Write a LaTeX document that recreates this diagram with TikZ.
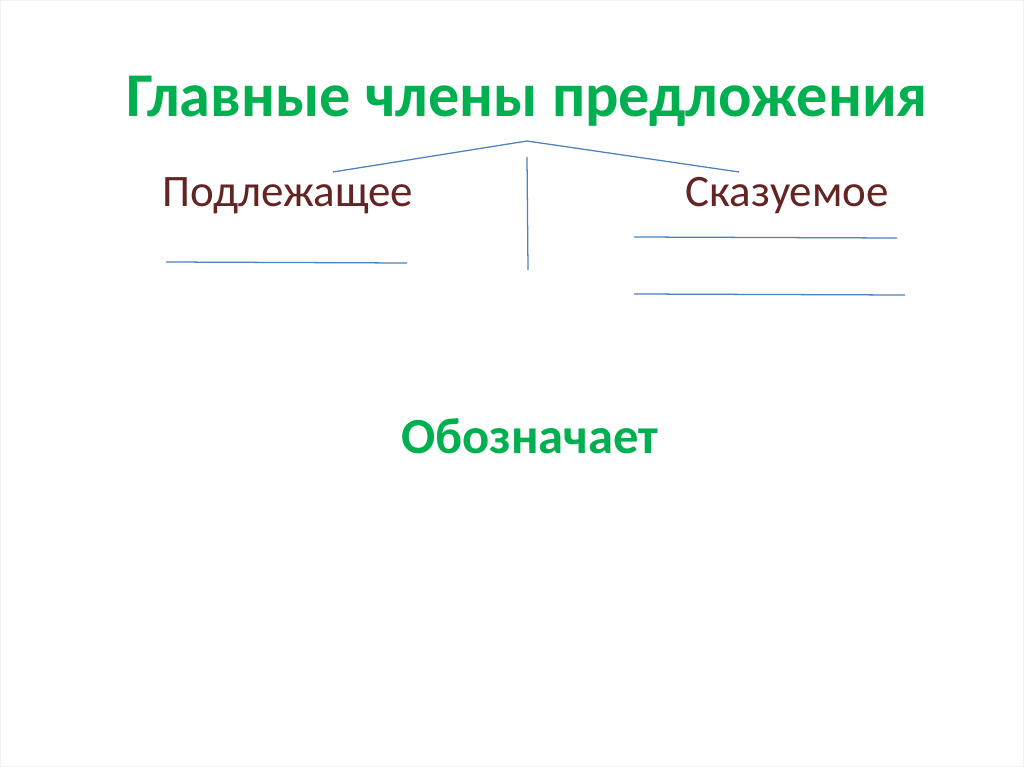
\documentclass[tikz,border=0pt]{standalone}
\usepackage{fontspec}
\setmainfont{Carlito}
\definecolor{titlegreen}{HTML}{00B050}
\definecolor{termred}{HTML}{632423}
\definecolor{lineblue}{HTML}{4F81BD}

\begin{document}
\begin{tikzpicture}[x=0.025cm,y=-0.025cm]
	% `heading' is used for the green bold texts.
	% `term' is used for the two dark red words.
	\tikzstyle{heading} = [text=titlegreen,font=\bfseries,anchor=base,inner sep=0pt]
	\tikzstyle{term} = [text=termred,anchor=base,inner sep=0pt]
	\tikzstyle{rule} = [draw=lineblue,line width=0.9pt]
	%
	\path[fill=white,draw=black!5] (0.5,0.5) rectangle (1023.5,766.5);
	\useasboundingbox (0,0) rectangle (1024,767);
	% Texts.
	\node[heading,font=\fontsize{44.3}{50}\selectfont\bfseries] (title) at (527,117) {Главные члены предложения};
	\node[term,font=\fontsize{32}{36}\selectfont] (subj) at (288,207) {Подлежащее};
	\node[term,font=\fontsize{32}{36}\selectfont] (pred) at (787,207) {Сказуемое};
	\node[heading,font=\fontsize{36}{40}\selectfont\bfseries] (means) at (530,453) {Обозначает};
	% Points of the lines.
	\coordinate (peak) at (527,141);
	\coordinate (left) at (333,172);
	\coordinate (right) at (739,172);
	\coordinate (top) at (527,157);
	\coordinate (bottom) at (528,270);
	% Draw lines.
	\draw[rule] (left) -- (peak) -- (right);
	\draw[rule] (top) -- (bottom);
	\draw[rule] (166,262) -- (407,263);
	\draw[rule] (634,237) -- (897,238);
	\draw[rule] (634,294) -- (905,295);
%
\end{tikzpicture}
\end{document}
